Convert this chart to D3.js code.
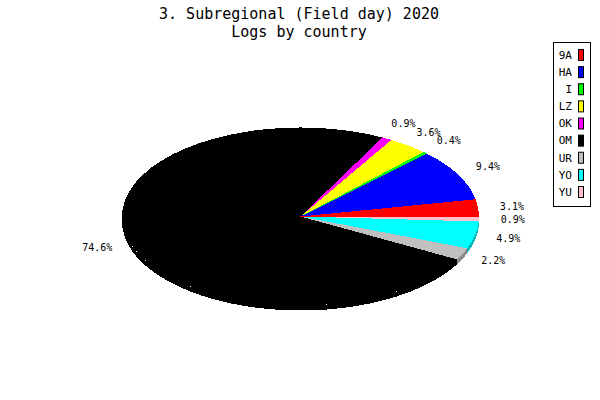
<!DOCTYPE html>
<html lang="en">
<head>
<meta charset="UTF-8">
<title>Logs by country</title>
<script src="https://cdn.jsdelivr.net/npm/d3@7/dist/d3.min.js"></script>
<style>
    body { margin: 0; background: #fff; }
    text { font-family: "DejaVu Sans Mono", monospace; fill: #000; }
    .slice path { shape-rendering: crispEdges; }
</style>
</head>
<body>
<div id="chart"></div>
<script>
// Data, counter-clockwise from 3 o'clock
const countries = ["9A", "HA", "I", "LZ", "OK", "OM", "UR", "YO", "YU"];
const shares = [3.1, 9.4, 0.4, 3.6, 0.9, 74.6, 2.2, 4.9, 0.9];
const colors = ["#ff0000", "#0000ff", "#00ff00", "#ffff00", "#ff00ff",
                "#000000", "#c0c0c0", "#00ffff", "#ffc0cb"];

const width = 600, height = 400;
const cx = 300.5, cy = 216.5, rx = 178.5, ry = 89, depth = 5;
const labelFactor = 1.19;

const svg = d3.select("#chart").append("svg")
    .attr("width", width)
    .attr("height", height);

// titles
svg.append("text")
    .attr("x", 299).attr("y", 19)
    .attr("text-anchor", "middle")
    .style("font-size", "15px")
    .text("3. Subregional (Field day) 2020");
svg.append("text")
    .attr("x", 299).attr("y", 37)
    .attr("text-anchor", "middle")
    .style("font-size", "15px")
    .text("Logs by country");

// pie angles (used as math angles: ccw from east)
const slices = d3.pie().sort(null).value(d => d)(shares);

const pt = (a, dy = 0) => [cx + rx * Math.cos(a), cy - ry * Math.sin(a) + dy];

// side walls for the front half of the ellipse
const sides = svg.append("g").attr("class", "slice");
slices.forEach((s, i) => {
    const a0 = Math.max(s.startAngle, Math.PI);
    const a1 = Math.min(s.endAngle, 2 * Math.PI);
    if (a1 <= a0) return;
    const p0 = pt(a0), p1 = pt(a1), q1 = pt(a1, depth), q0 = pt(a0, depth);
    const d = `M${p0}A${rx},${ry} 0 0 0 ${p1}L${q1}A${rx},${ry} 0 0 1 ${q0}Z`;
    sides.append("path")
        .attr("d", d)
        .attr("fill", d3.color(colors[i]).darker(0.9));
});

// top faces, a circular arc squashed into the ellipse
const arc = d3.arc().innerRadius(0).outerRadius(rx);
svg.append("g")
    .attr("class", "slice")
    .attr("transform", `translate(${cx},${cy}) scale(1,${ry / rx})`)
    .selectAll("path")
    .data(slices)
    .join("path")
    .attr("d", s => arc({ startAngle: Math.PI / 2 - s.endAngle, endAngle: Math.PI / 2 - s.startAngle }))
    .attr("fill", (s, i) => colors[i]);

// percentage labels
svg.append("g")
    .selectAll("text")
    .data(slices)
    .join("text")
    .attr("x", s => cx + labelFactor * rx * Math.cos((s.startAngle + s.endAngle) / 2))
    .attr("y", s => cy - labelFactor * ry * Math.sin((s.startAngle + s.endAngle) / 2))
    .attr("dy", "0.35em")
    .attr("text-anchor", "middle")
    .style("font-size", "10px")
    .text(s => s.data.toFixed(1) + "%");

// legend
const legend = svg.append("g");
legend.append("rect")
    .attr("x", 553.5).attr("y", 42.5)
    .attr("width", 37).attr("height", 164)
    .attr("fill", "#fff")
    .attr("stroke", "#000");

const rowY = d3.scalePoint().domain(countries).range([55, 192]);
const row = legend.selectAll("g.row")
    .data(countries)
    .join("g")
    .attr("class", "row")
    .attr("transform", d => `translate(0,${rowY(d)})`);
row.append("text")
    .attr("x", 572).attr("dy", "0.35em")
    .attr("text-anchor", "end")
    .style("font-size", "11px")
    .text(d => d);
row.append("rect")
    .attr("x", 578.5).attr("y", -5.5)
    .attr("width", 5).attr("height", 11)
    .attr("fill", (d, i) => colors[i])
    .attr("stroke", "#000");
</script>
</body>
</html>
